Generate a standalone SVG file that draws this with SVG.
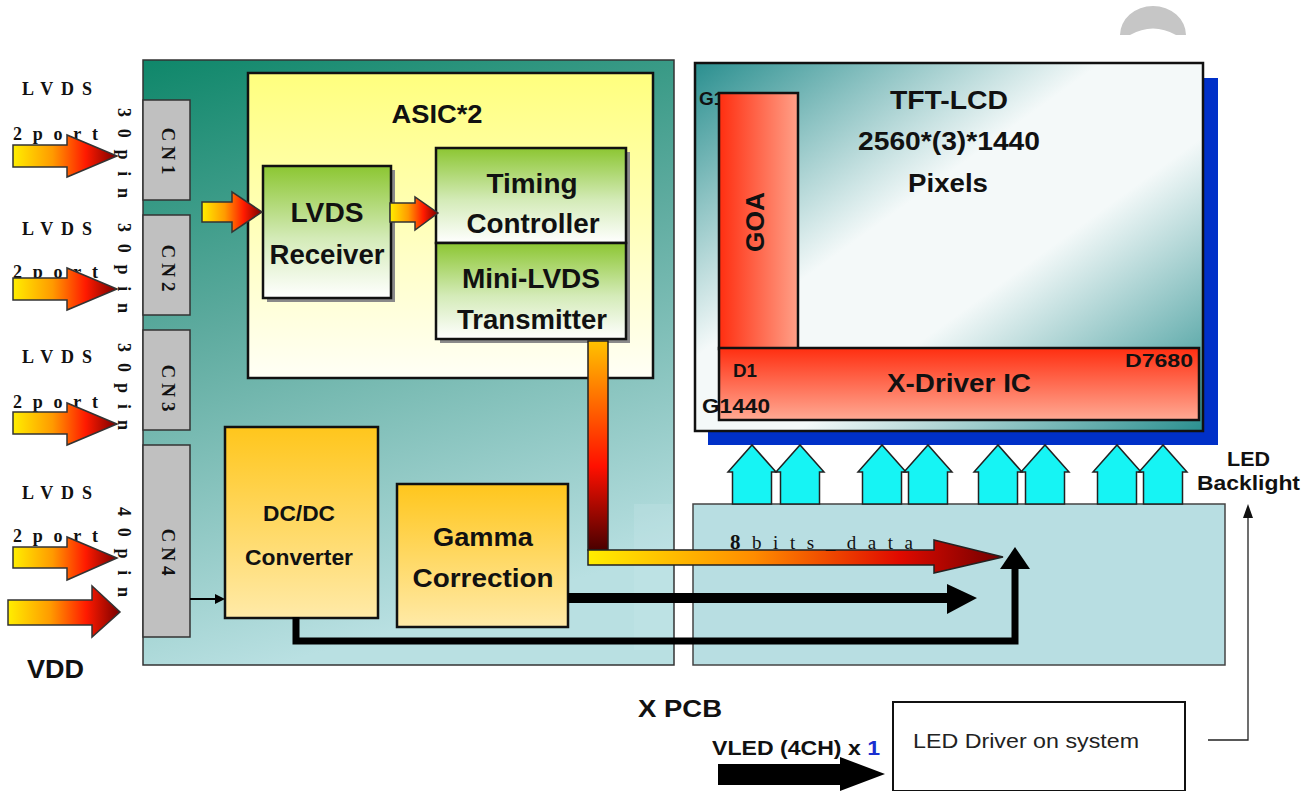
<svg xmlns="http://www.w3.org/2000/svg" width="1313" height="791" viewBox="0 0 1313 791">
<defs>
<linearGradient id="gBoard" x1="0" y1="0" x2="0.25" y2="1">
<stop offset="0" stop-color="#0f876a"/><stop offset="0.45" stop-color="#5eab9f"/><stop offset="1" stop-color="#b9e0e2"/>
</linearGradient>
<linearGradient id="gAsic" x1="0" y1="0" x2="0" y2="1">
<stop offset="0" stop-color="#ffff7e"/><stop offset="1" stop-color="#fffff6"/>
</linearGradient>
<linearGradient id="gGreen" x1="0" y1="0" x2="0" y2="1">
<stop offset="0" stop-color="#8cc632"/><stop offset="0.55" stop-color="#d4ebb8"/><stop offset="1" stop-color="#ffffff"/>
</linearGradient>
<linearGradient id="gOrange" x1="0" y1="0" x2="0" y2="1">
<stop offset="0" stop-color="#ffc61c"/><stop offset="1" stop-color="#ffeaa8"/>
</linearGradient>
<linearGradient id="gPanel" x1="0" y1="0" x2="1" y2="1">
<stop offset="0" stop-color="#2a8f8f"/><stop offset="0.4" stop-color="#f4f9f9"/><stop offset="0.6" stop-color="#f4f9f9"/><stop offset="1" stop-color="#2a8f8f"/>
</linearGradient>
<linearGradient id="gGoa" x1="0" y1="0" x2="1" y2="0">
<stop offset="0" stop-color="#ff2e10"/><stop offset="1" stop-color="#ffa088"/>
</linearGradient>
<linearGradient id="gXdrv" x1="0" y1="0" x2="0" y2="1">
<stop offset="0" stop-color="#ff2e10"/><stop offset="1" stop-color="#ffaa94"/>
</linearGradient>
<linearGradient id="gArrow" x1="0" y1="0" x2="1" y2="0">
<stop offset="0" stop-color="#ffee00"/><stop offset="0.38" stop-color="#ff9a00"/><stop offset="0.7" stop-color="#ff1a00"/><stop offset="1" stop-color="#780000"/>
</linearGradient>
<linearGradient id="gVbar" x1="0" y1="0" x2="0" y2="1">
<stop offset="0" stop-color="#ffc200"/><stop offset="0.6" stop-color="#ff1000"/><stop offset="1" stop-color="#4a0000"/>
</linearGradient>
<linearGradient id="gHbar" x1="0" y1="0" x2="1" y2="0">
<stop offset="0" stop-color="#ffee00"/><stop offset="0.4" stop-color="#ff8c00"/><stop offset="0.75" stop-color="#e00a00"/><stop offset="1" stop-color="#700000"/>
</linearGradient>
<style>
.lbl{font-family:"Liberation Sans",Arial,sans-serif;font-weight:bold;fill:#111;text-anchor:middle}
.lbs{font-family:"Liberation Sans",Arial,sans-serif;font-weight:bold;fill:#111}
.ser{font-family:"Liberation Serif","Times New Roman",serif;font-weight:bold;fill:#111}
.box{stroke:#111;stroke-width:2.5}
.cn{fill:#c0c0c0;stroke:#333;stroke-width:1.5}
.larr{fill:url(#gArrow);stroke:#333;stroke-width:1.5}
.cyan{fill:#16f4f4;stroke:#222;stroke-width:1.5}
.shadow{fill:#8a8a8a}
</style>
</defs>
<rect width="1313" height="791" fill="#ffffff"/>

<!-- decorative arc top right -->
<path d="M1120,35 A33,29 0 0 1 1186,35 L1176,35 Q1153,22 1130,35 Z" fill="#c6c6c6"/>

<!-- left board -->
<g id="board">
<rect x="143" y="60" width="531" height="605" fill="url(#gBoard)" stroke="#333" stroke-width="1.5"/>
<rect x="634" y="504" width="38" height="146" fill="#cbe9ea" opacity="0.25"/>
</g>

<!-- connectors CN -->
<g id="cn1"><rect class="cn" x="143" y="100" width="47" height="100"/><text class="ser" font-size="19" text-anchor="middle" textLength="47" lengthAdjust="spacing" transform="translate(162,151) rotate(90)">CN1</text></g>
<g id="cn2"><rect class="cn" x="143" y="215" width="47" height="100"/><text class="ser" font-size="19" text-anchor="middle" textLength="47" lengthAdjust="spacing" transform="translate(162,268) rotate(90)">CN2</text></g>
<g id="cn3"><rect class="cn" x="143" y="330" width="47" height="100"/><text class="ser" font-size="19" text-anchor="middle" textLength="47" lengthAdjust="spacing" transform="translate(162,388) rotate(90)">CN3</text></g>
<g id="cn4"><rect class="cn" x="143" y="445" width="47" height="192"/><text class="ser" font-size="19" text-anchor="middle" textLength="47" lengthAdjust="spacing" transform="translate(162,552) rotate(90)">CN4</text></g>

<!-- left input labels -->
<g id="inputs">
<text class="ser" font-size="18" x="22" y="95" textLength="70" lengthAdjust="spacing">LVDS</text>
<text class="ser" font-size="18" x="13" y="140" textLength="85" lengthAdjust="spacing">2port</text>
<text class="ser" font-size="18" textLength="90" lengthAdjust="spacing" transform="translate(118,108) rotate(90)">30pin</text>
<text class="ser" font-size="18" x="22" y="235" textLength="70" lengthAdjust="spacing">LVDS</text>
<text class="ser" font-size="18" x="13" y="278" textLength="85" lengthAdjust="spacing">2port</text>
<text class="ser" font-size="18" textLength="90" lengthAdjust="spacing" transform="translate(118,223) rotate(90)">30pin</text>
<text class="ser" font-size="18" x="22" y="363" textLength="70" lengthAdjust="spacing">LVDS</text>
<text class="ser" font-size="18" x="13" y="408" textLength="85" lengthAdjust="spacing">2port</text>
<text class="ser" font-size="18" textLength="87" lengthAdjust="spacing" transform="translate(118,343) rotate(90)">30pin</text>
<text class="ser" font-size="18" x="22" y="499" textLength="70" lengthAdjust="spacing">LVDS</text>
<text class="ser" font-size="18" x="13" y="542" textLength="85" lengthAdjust="spacing">2port</text>
<text class="ser" font-size="18" textLength="90" lengthAdjust="spacing" transform="translate(118,507) rotate(90)">40pin</text>
<text class="lbs" font-size="25" x="27" y="678" textLength="57" lengthAdjust="spacingAndGlyphs">VDD</text>
</g>

<!-- ASIC -->
<g id="asic">
<rect class="box" x="248" y="73" width="405" height="305" fill="url(#gAsic)"/>
<text class="lbl" font-size="25" x="437" y="123" textLength="91" lengthAdjust="spacingAndGlyphs">ASIC*2</text>
</g>
<g id="lvds-receiver">
<rect class="shadow" x="267" y="170" width="128" height="132"/>
<rect class="box" x="263" y="166" width="128" height="132" fill="url(#gGreen)"/>
<text class="lbl" font-size="27" x="327" y="222" textLength="73" lengthAdjust="spacingAndGlyphs">LVDS</text>
<text class="lbl" font-size="27" x="327" y="264" textLength="115" lengthAdjust="spacingAndGlyphs">Receiver</text>
</g>
<g id="timing-controller">
<rect class="shadow" x="440" y="152" width="190" height="191"/>
<rect class="box" x="436" y="148" width="190" height="95" fill="url(#gGreen)"/>
<text class="lbl" font-size="27" x="532" y="193" textLength="91" lengthAdjust="spacingAndGlyphs">Timing</text>
<text class="lbl" font-size="27" x="533" y="233" textLength="133" lengthAdjust="spacingAndGlyphs">Controller</text>
</g>
<g id="mini-lvds">
<rect class="box" x="436" y="243" width="190" height="96" fill="url(#gGreen)"/>
<text class="lbl" font-size="27" x="531" y="288" textLength="138" lengthAdjust="spacingAndGlyphs">Mini-LVDS</text>
<text class="lbl" font-size="27" x="532" y="329" textLength="150" lengthAdjust="spacingAndGlyphs">Transmitter</text>
</g>
<g id="dcdc">
<rect class="box" x="225" y="427" width="153" height="191" fill="url(#gOrange)"/>
<text class="lbl" font-size="22" x="299" y="521" textLength="72" lengthAdjust="spacingAndGlyphs">DC/DC</text>
<text class="lbl" font-size="22" x="299" y="565" textLength="108" lengthAdjust="spacingAndGlyphs">Converter</text>
</g>
<g id="gamma">
<rect class="box" x="397" y="484" width="171" height="143" fill="url(#gOrange)"/>
<text class="lbl" font-size="25" x="483" y="546" textLength="100" lengthAdjust="spacingAndGlyphs">Gamma</text>
<text class="lbl" font-size="25" x="483" y="587" textLength="141" lengthAdjust="spacingAndGlyphs">Correction</text>
</g>

<!-- X PCB right box -->
<g id="xpcb">
<rect x="693" y="504" width="532" height="161" fill="#b8dee2" stroke="#444" stroke-width="1.5"/>
<text class="lbs" font-size="24" x="638" y="717" textLength="84" lengthAdjust="spacingAndGlyphs">X PCB</text>
</g>

<!-- TFT panel -->
<g id="tft-lcd">
<rect x="708" y="78" width="510" height="367" fill="#0030c8"/>
<rect x="695" y="63" width="508" height="368" fill="url(#gPanel)" stroke="#111" stroke-width="2.5"/>
<text class="lbl" font-size="26" x="949" y="109" textLength="118" lengthAdjust="spacingAndGlyphs">TFT-LCD</text>
<text class="lbl" font-size="25" x="949" y="150" textLength="182" lengthAdjust="spacingAndGlyphs">2560*(3)*1440</text>
<text class="lbl" font-size="25" x="948" y="192" textLength="80" lengthAdjust="spacingAndGlyphs">Pixels</text>
<text class="lbs" font-size="19" x="699" y="105">G1</text>
</g>
<g id="goa">
<rect class="box" x="719" y="93" width="79" height="256" fill="url(#gGoa)"/>
<text class="lbl" font-size="25" textLength="60" lengthAdjust="spacingAndGlyphs" transform="translate(764,222) rotate(-90)">GOA</text>
</g>
<g id="x-driver">
<rect class="box" x="719" y="348" width="480" height="72" fill="url(#gXdrv)"/>
<text class="lbs" font-size="25" x="887" y="392" textLength="144" lengthAdjust="spacingAndGlyphs">X-Driver IC</text>
<text class="lbs" font-size="18" x="733" y="377" textLength="24" lengthAdjust="spacingAndGlyphs">D1</text>
<text class="lbs" font-size="18" x="1125" y="367" textLength="68" lengthAdjust="spacingAndGlyphs">D7680</text>
<text class="lbs" font-size="20" x="702" y="413" textLength="68" lengthAdjust="spacingAndGlyphs">G1440</text>
</g>

<!-- LED backlight -->
<g id="led-backlight">
<text class="lbs" font-size="21" x="1227" y="466" textLength="43" lengthAdjust="spacingAndGlyphs">LED</text>
<text class="lbs" font-size="21" x="1197" y="490" textLength="103" lengthAdjust="spacingAndGlyphs">Backlight</text>
</g>

<!-- LED driver -->
<g id="led-driver">
<rect x="893" y="702" width="292" height="89" fill="#ffffff" stroke="#111" stroke-width="2"/>
<text x="913" y="748" font-family="'Liberation Sans',Arial,sans-serif" font-size="21" fill="#222" textLength="226" lengthAdjust="spacingAndGlyphs">LED Driver on system</text>
</g>
<g id="vled">
<text class="lbs" font-size="21" x="712" y="755" textLength="168" lengthAdjust="spacingAndGlyphs">VLED (4CH) x <tspan fill="#1a2fd0">1</tspan></text>
</g>

<!-- connectors -->
<g id="connectors">
<polygon class="larr" points="13,145 67,145 67,135 117,156 67,177 67,167 13,167"/>
<polygon class="larr" points="13,278 67,278 67,268 117,289 67,310 67,300 13,300"/>
<polygon class="larr" points="13,412 67,412 67,403 117,424 67,445 67,434 13,434"/>
<polygon class="larr" points="13,547 67,547 67,537 117,558 67,580 67,568 13,568"/>
<polygon class="larr" points="8,600 92,600 92,586 120,612 92,637 92,625 8,625"/>
<polygon class="larr" points="202,202 232,202 232,192 262,212 232,232 232,222 202,222"/>
<polygon class="larr" points="390,203 415,203 415,197 438,213 415,230 415,222 390,222"/>
<rect x="588" y="341" width="20" height="209" fill="url(#gVbar)" stroke="#222" stroke-width="1.5"/>
<polygon points="588,550 934,550 934,540 1003,557 934,573 934,565 588,565" fill="url(#gHbar)" stroke="#222" stroke-width="1.5"/>
<text x="730" y="549" font-family="'Liberation Serif','Times New Roman',serif" font-size="19" fill="#111" textLength="183" lengthAdjust="spacing"><tspan font-weight="bold" font-size="21">8</tspan>bits_data</text>
<polygon points="568,593 947,593 947,584 977,598 947,614 947,603 568,603" fill="#000"/>
<path d="M296,617 V641 H1015 V566" fill="none" stroke="#000" stroke-width="7"/>
<polygon points="1000,569 1015,547 1030,569" fill="#000"/>
<line x1="190" y1="599" x2="218" y2="599" stroke="#000" stroke-width="2"/>
<polygon points="215,594 225,599 215,604" fill="#000"/>
<polygon class="cyan" points="732.5,504 732.5,472 728,472 752,445 776,472 771.5,472 771.5,504"/>
<polygon class="cyan" points="780.5,504 780.5,472 776,472 800,445 824,472 819.5,472 819.5,504"/>
<polygon class="cyan" points="862.5,504 862.5,472 858,472 882,445 906,472 901.5,472 901.5,504"/>
<polygon class="cyan" points="908.5,504 908.5,472 904,472 928,445 952,472 947.5,472 947.5,504"/>
<polygon class="cyan" points="978.5,504 978.5,472 974,472 998,445 1022,472 1017.5,472 1017.5,504"/>
<polygon class="cyan" points="1025.5,504 1025.5,472 1021,472 1045,445 1069,472 1064.5,472 1064.5,504"/>
<polygon class="cyan" points="1097.5,504 1097.5,472 1093,472 1117,445 1141,472 1136.5,472 1136.5,504"/>
<polygon class="cyan" points="1143.5,504 1143.5,472 1139,472 1163,445 1187,472 1182.5,472 1182.5,504"/>
<path d="M1208,740 H1248 V516" fill="none" stroke="#222" stroke-width="1.3"/>
<polygon points="1243,518 1248,504 1253,518" fill="#111"/>
<polygon points="718,764 840,764 840,757 885,774 840,791 840,785 718,785" fill="#000"/>
</g>
</svg>
